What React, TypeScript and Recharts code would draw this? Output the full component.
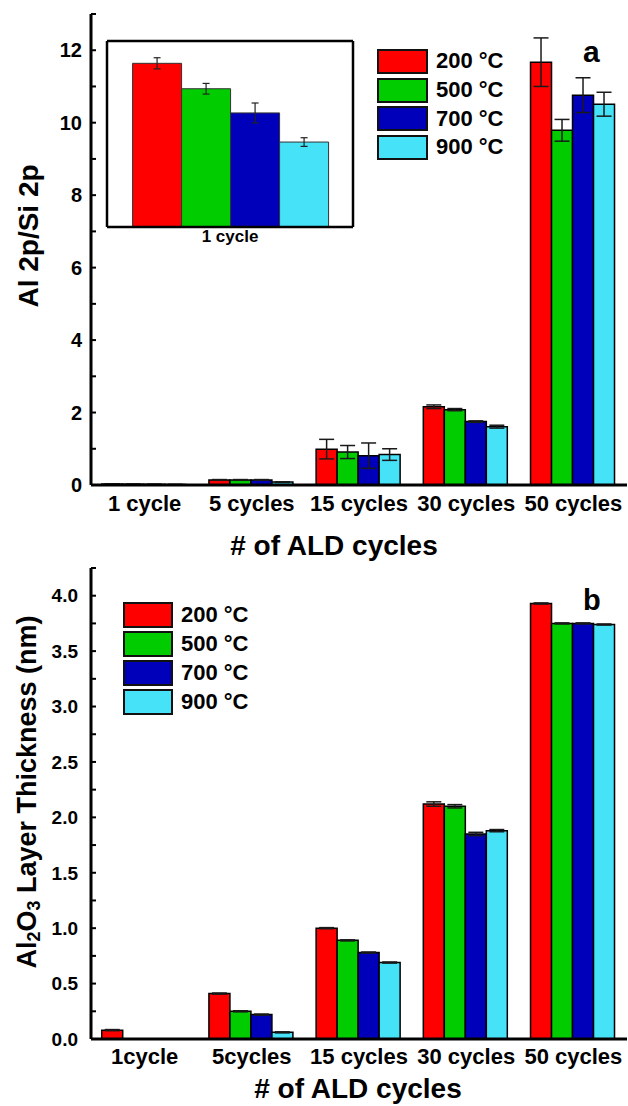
import { BarChart, Bar, XAxis, YAxis, ErrorBar, Legend } from "recharts";

const font = "'Liberation Sans', Arial, Helvetica, sans-serif";

const cyclesA = ["1 cycle", "5 cycles", "15 cycles", "30 cycles", "50 cycles"];
const cyclesB = ["1cycle", "5cycles", "15 cycles", "30 cycles", "50 cycles"];
const temps = ["200 °C", "500 °C", "700 °C", "900 °C"];
const colors = ["#ff0000", "#00cc00", "#0000bb", "#46e2f8"];

// (a) Al 2p / Si 2p intensity ratio
const ratio200 = [0.0264, 0.14, 0.99, 2.16, 11.67];
const ratio500 = [0.0223, 0.14, 0.91, 2.08, 9.79];
const ratio700 = [0.0184, 0.14, 0.81, 1.75, 10.76];
const ratio900 = [0.0137, 0.08, 0.84, 1.61, 10.51];
const ratioErr200 = [0.0009, 0.01, 0.27, 0.05, 0.67];
const ratioErr500 = [0.00086, 0.01, 0.18, 0.03, 0.3];
const ratioErr700 = [0.0016, 0.01, 0.35, 0.02, 0.48];
const ratioErr900 = [0.0007, 0.01, 0.16, 0.04, 0.33];

// (b) Al2O3 layer thickness, nm
const thick200 = [0.08, 0.41, 1.0, 2.12, 3.93];
const thick500 = [0, 0.25, 0.89, 2.1, 3.75];
const thick700 = [0, 0.22, 0.78, 1.85, 3.75];
const thick900 = [0, 0.06, 0.69, 1.88, 3.74];
const thickErr200 = [0.005, 0.005, 0.005, 0.02, 0.005];
const thickErr500 = [0, 0.005, 0.005, 0.015, 0.005];
const thickErr700 = [0, 0.005, 0.005, 0.015, 0.005];
const thickErr900 = [0, 0.005, 0.005, 0.01, 0.005];

const ratioTicks = [0, 1, 2, 3, 4, 5, 6, 7, 8, 9, 10, 11, 12, 13];
const thickTicks = [0, 0.25, 0.5, 0.75, 1, 1.25, 1.5, 1.75, 2, 2.25, 2.5, 2.75, 3, 3.25, 3.5, 3.75, 4, 4.25];
const insetTicks = [0, 0.002, 0.004, 0.006, 0.008, 0.01, 0.012, 0.014, 0.016, 0.018, 0.02, 0.022, 0.024, 0.026, 0.028, 0.03];
const halfBandTicks = [1, 2, 3, 4, 5, 6, 7, 8, 9];

const keys = ["t200", "t500", "t700", "t900"];
const errKeys = ["e200", "e500", "e700", "e900"];

const ratioRows = cyclesA.map((c, i) => ({
  cycle: c,
  t200: ratio200[i], t500: ratio500[i], t700: ratio700[i], t900: ratio900[i],
  e200: ratioErr200[i], e500: ratioErr500[i], e700: ratioErr700[i], e900: ratioErr900[i],
}));
const insetRows = [ratioRows[0]];
const thickRows = cyclesB.map((c, i) => ({
  cycle: c,
  t200: thick200[i], t500: thick500[i], t700: thick700[i], t900: thick900[i],
  e200: thickErr200[i], e500: thickErr500[i], e700: thickErr700[i], e900: thickErr900[i],
}));

const axisLine = { stroke: "#000", strokeWidth: 3 };
const tickLine = { stroke: "#000", strokeWidth: 2 };
const insetLine = { stroke: "#000", strokeWidth: 2.5 };
const insetTick = { stroke: "#000", strokeWidth: 1.5 };

function LegendList({ payload, boxW, boxH, pitch, fontSize }: any) {
  return (
    <div style={{ fontFamily: font, fontWeight: "bold", fontSize }}>
      {(payload || []).map((p: any) => (
        <div key={p.value} style={{ display: "flex", alignItems: "center", height: pitch }}>
          <div
            style={{
              width: boxW,
              height: boxH,
              boxSizing: "border-box",
              background: p.color,
              border: "2px solid #111",
              marginRight: 8,
            }}
          />
          <span style={{ lineHeight: 1 }}>{p.value}</span>
        </div>
      ))}
    </div>
  );
}

function series(errWidth: number) {
  return temps.map((t, k) => (
    <Bar
      key={t}
      dataKey={keys[k]}
      name={t}
      fill={colors[k]}
      stroke="#000"
      strokeWidth={1.5}
      isAnimationActive={false}
    >
      <ErrorBar dataKey={errKeys[k]} width={errWidth} stroke="#1a1a1a" strokeWidth={1.5} isAnimationActive={false} />
    </Bar>
  ));
}

export default function App() {
  const txt = { fontFamily: font, fontWeight: "bold", fill: "#000" } as const;
  return (
    <div style={{ position: "absolute", left: 0, top: 0, width: 628, height: 1106, background: "#fff" }}>
      {/* panel a */}
      <div style={{ position: "absolute", left: 0, top: 0 }}>
        <BarChart
          width={628}
          height={570}
          data={ratioRows}
          margin={{ top: 14, right: 1, bottom: 0, left: 0 }}
          barCategoryGap="10%"
          barGap={0}
        >
          <XAxis
            dataKey="cycle"
            height={85}
            axisLine={axisLine}
            tickLine={false}
            tickSize={0}
            tickMargin={10}
            interval={0}
            tick={{ ...txt, fontSize: 22 }}
          />
          <XAxis xAxisId="top" type="number" orientation="top" mirror height={0} domain={[0, 10]} ticks={halfBandTicks} allowDataOverflow interval={0} tick={false} tickSize={5} tickLine={tickLine} axisLine={axisLine} />
          <YAxis
            width={91}
            domain={[0, 13]}
            ticks={ratioTicks}
            interval={0}
            allowDataOverflow
            axisLine={axisLine}
            tickLine={tickLine}
            tickSize={-5}
            tickMargin={14}
            tickFormatter={(v: number) => (v % 2 === 0 ? String(v) : "")}
            tick={{ ...txt, fontSize: 20 }}
          />
          <YAxis yAxisId="right" orientation="right" mirror width={0} domain={[0, 13]} ticks={ratioTicks} allowDataOverflow interval={0} tick={false} tickSize={5} tickLine={tickLine} axisLine={axisLine} />
          {series(7.5)}
          <Legend
            layout="vertical"
            align="center"
            verticalAlign="middle"
            wrapperStyle={{ left: 377, top: 47, width: 140 }}
            content={(p: any) => <LegendList payload={p.payload} boxW={51} boxH={25} pitch={28.7} fontSize={22} />}
          />
          <text x={28} y={236} transform="rotate(-90 28 236)" textAnchor="middle" dominantBaseline="central" fontSize={28} {...txt}>
            Al 2p/Si 2p
          </text>
          <text x={334} y={555} textAnchor="middle" fontSize={28} {...txt}>
            # of ALD cycles
          </text>
          <text x={583} y={62} fontSize={30} {...txt}>
            a
          </text>
        </BarChart>
      </div>

      {/* inset: 1 cycle magnified */}
      <div style={{ position: "absolute", left: 104, top: 38, background: "#fff" }}>
        <BarChart
          width={252}
          height={210}
          data={insetRows}
          margin={{ top: 0, right: 0, bottom: 0, left: 0 }}
          barCategoryGap="10.4%"
          barGap={0}
        >
          <XAxis dataKey="cycle" height={21} axisLine={insetLine} tickLine={false} tickSize={0} tickMargin={3} tick={{ ...txt, fontSize: 17 }} />
          <XAxis xAxisId="top" dataKey="cycle" orientation="top" height={3} tick={false} tickLine={false} axisLine={insetLine} />
          <YAxis width={3} domain={[0, 0.03]} ticks={insetTicks} interval={0} allowDataOverflow tick={false} tickSize={-3} tickLine={insetTick} axisLine={insetLine} />
          <YAxis yAxisId="right" orientation="right" width={3} domain={[0, 0.03]} ticks={insetTicks} interval={0} allowDataOverflow tick={false} tickSize={-3} tickLine={insetTick} axisLine={insetLine} />
          {temps.map((t, k) => (
            <Bar key={t} dataKey={keys[k]} name={t} fill={colors[k]} stroke="#333" strokeWidth={1} isAnimationActive={false}>
              <ErrorBar dataKey={errKeys[k]} width={3.5} stroke="#222" strokeWidth={1.2} isAnimationActive={false} />
            </Bar>
          ))}
        </BarChart>
      </div>

      {/* panel b */}
      <div style={{ position: "absolute", left: 0, top: 554 }}>
        <BarChart
          width={628}
          height={552}
          data={thickRows}
          margin={{ top: 14, right: 1, bottom: 0, left: 0 }}
          barCategoryGap="10%"
          barGap={0}
        >
          <XAxis
            dataKey="cycle"
            height={67}
            axisLine={axisLine}
            tickLine={false}
            tickSize={0}
            tickMargin={9}
            interval={0}
            tick={{ ...txt, fontSize: 22 }}
          />
          <XAxis xAxisId="top" type="number" orientation="top" mirror height={0} domain={[0, 10]} ticks={halfBandTicks} allowDataOverflow interval={0} tick={false} tickSize={5} tickLine={tickLine} axisLine={axisLine} />
          <YAxis
            width={91}
            domain={[0, 4.25]}
            ticks={thickTicks}
            interval={0}
            allowDataOverflow
            axisLine={axisLine}
            tickLine={tickLine}
            tickSize={-5}
            tickMargin={18}
            tickFormatter={(v: number) => (v % 0.5 === 0 ? v.toFixed(1) : "")}
            tick={{ ...txt, fontSize: 19 }}
          />
          <YAxis yAxisId="right" orientation="right" mirror width={0} domain={[0, 4.25]} ticks={thickTicks} allowDataOverflow interval={0} tick={false} tickSize={5} tickLine={tickLine} axisLine={axisLine} />
          {series(7.5)}
          <Legend
            layout="vertical"
            align="center"
            verticalAlign="middle"
            wrapperStyle={{ left: 123, top: 46, width: 140 }}
            content={(p: any) => <LegendList payload={p.payload} boxW={50} boxH={26} pitch={29} fontSize={22} />}
          />
          <text x={27} y={238} transform="rotate(-90 27 238)" textAnchor="middle" dominantBaseline="central" fontSize={27} {...txt}>
            Al<tspan fontSize={18} dy={7}>2</tspan>
            <tspan dy={-7}>O</tspan>
            <tspan fontSize={18} dy={7}>3</tspan>
            <tspan dy={-7}> Layer Thickness (nm)</tspan>
          </text>
          <text x={358} y={544} textAnchor="middle" fontSize={28} {...txt}>
            # of ALD cycles
          </text>
          <text x={583} y={56} fontSize={29} {...txt}>
            b
          </text>
        </BarChart>
      </div>
    </div>
  );
}
